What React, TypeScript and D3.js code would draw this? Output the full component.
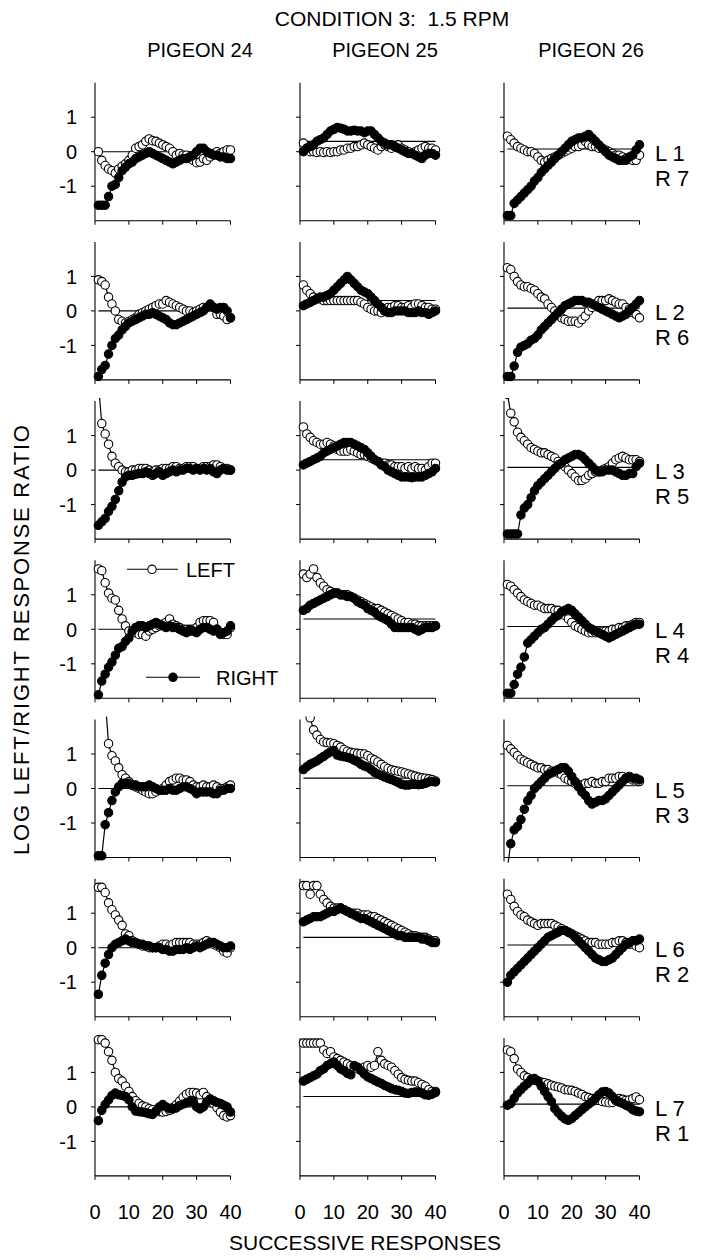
import React from 'react';
import * as d3 from 'd3';

// ---------- labels ----------
const pigeons = ['PIGEON 24', 'PIGEON 25', 'PIGEON 26'];
const leftLabels = ['L 1', 'L 2', 'L 3', 'L 4', 'L 5', 'L 6', 'L 7'];
const rightLabels = ['R 7', 'R 6', 'R 5', 'R 4', 'R 3', 'R 2', 'R 1'];
const xTickValues = [0, 10, 20, 30, 40];
const yTickValues = [1, 0, -1];
const referenceLevels = [0, 0.3, 0.08];
const titleText = 'CONDITION 3:  1.5 RPM';
const xTitle = 'SUCCESSIVE RESPONSES';
const yTitle = 'LOG LEFT/RIGHT RESPONSE RATIO';

// ---------- data (responses 1..40) ----------
// Row L1 R7
const p24_L1R7_left = [0.0,-0.25,-0.4,-0.5,-0.55,-0.62,-0.5,-0.42,-0.35,-0.25,-0.1,0.1,0.15,0.2,0.3,0.37,0.32,0.3,0.25,0.2,0.15,0.1,0.0,-0.1,-0.05,-0.1,-0.1,-0.15,-0.25,-0.32,-0.3,-0.2,-0.25,-0.15,-0.05,0.0,-0.05,0.0,0.05,0.05];
const p24_L1R7_right = [-1.55,-1.55,-1.55,-1.3,-1.0,-0.95,-0.75,-0.55,-0.45,-0.35,-0.3,-0.2,-0.15,-0.1,-0.05,0.0,-0.05,-0.1,-0.15,-0.2,-0.25,-0.3,-0.35,-0.3,-0.25,-0.2,-0.2,-0.15,-0.1,0.0,0.1,0.1,0.0,-0.05,-0.1,-0.1,-0.15,-0.15,-0.2,-0.2];
const p25_L1R7_left = [0.25,0.1,0.0,0.0,-0.02,0.0,-0.02,0.0,-0.02,0.0,0.0,0.05,0.05,0.1,0.1,0.15,0.15,0.2,0.25,0.2,0.15,0.1,0.05,0.15,0.2,0.15,0.1,0.15,0.2,0.1,0.05,0.0,-0.05,0.0,0.05,0.1,0.15,0.1,0.1,0.05];
const p25_L1R7_right = [0.0,0.1,0.15,0.2,0.3,0.35,0.4,0.5,0.6,0.65,0.7,0.68,0.65,0.6,0.6,0.62,0.6,0.6,0.55,0.6,0.6,0.5,0.4,0.3,0.25,0.2,0.2,0.15,0.1,0.05,0.0,-0.05,-0.05,-0.1,-0.15,-0.2,-0.1,-0.05,-0.05,-0.1];
const p26_L1R7_left = [0.45,0.35,0.25,0.15,0.1,0.05,0.0,0.0,-0.05,-0.15,-0.25,-0.3,-0.25,-0.2,-0.15,-0.1,-0.05,0.0,0.05,0.1,0.15,0.15,0.2,0.3,0.2,0.15,0.15,0.1,0.1,0.05,0.0,-0.05,-0.1,-0.1,-0.15,-0.2,-0.2,-0.25,-0.25,-0.1];
const p26_L1R7_right = [-1.85,-1.85,-1.5,-1.4,-1.3,-1.2,-1.1,-1.0,-0.85,-0.75,-0.6,-0.5,-0.4,-0.3,-0.2,-0.1,0.0,0.1,0.2,0.3,0.35,0.4,0.4,0.45,0.5,0.4,0.3,0.2,0.1,0.0,-0.1,-0.15,-0.2,-0.25,-0.25,-0.25,-0.15,-0.1,0.05,0.2];
// Row L2 R6
const p24_L2R6_left = [0.9,0.85,0.75,0.4,0.2,0.0,-0.25,-0.3,-0.35,-0.3,-0.25,-0.2,-0.1,-0.05,0.0,0.05,0.1,0.15,0.2,0.2,0.3,0.25,0.2,0.15,0.1,0.05,0.0,0.0,-0.05,0.0,0.05,0.1,0.1,0.15,0.1,-0.1,-0.1,-0.15,-0.25,-0.2];
const p24_L2R6_right = [-1.9,-1.7,-1.58,-1.25,-1.0,-0.8,-0.7,-0.55,-0.45,-0.35,-0.3,-0.25,-0.2,-0.15,-0.1,-0.1,-0.05,-0.1,-0.15,-0.2,-0.25,-0.35,-0.4,-0.4,-0.35,-0.3,-0.25,-0.2,-0.15,-0.1,-0.05,0.0,0.1,0.2,0.1,0.05,0.1,0.1,0.0,-0.2];
const p25_L2R6_left = [0.75,0.6,0.5,0.4,0.35,0.35,0.3,0.3,0.3,0.3,0.3,0.3,0.3,0.3,0.3,0.3,0.3,0.25,0.2,0.1,0.05,0.0,0.0,-0.05,0.0,0.1,0.1,0.15,0.15,0.1,0.1,0.15,0.1,0.2,0.2,0.15,0.1,0.1,0.05,0.05];
const p25_L2R6_right = [0.15,0.2,0.25,0.3,0.35,0.4,0.4,0.45,0.5,0.6,0.7,0.8,0.9,1.0,0.9,0.8,0.7,0.6,0.55,0.5,0.4,0.3,0.2,0.1,0.0,-0.05,-0.05,0.0,0.0,0.0,0.0,-0.05,-0.05,-0.05,0.0,-0.05,-0.05,-0.1,-0.05,0.0];
const p26_L2R6_left = [1.25,1.2,1.0,0.85,0.75,0.7,0.7,0.65,0.6,0.5,0.4,0.35,0.2,0.1,0.0,-0.1,-0.2,-0.25,-0.3,-0.3,-0.3,-0.35,-0.25,-0.15,0.0,0.1,0.2,0.3,0.3,0.3,0.35,0.3,0.25,0.2,0.2,0.1,0.05,-0.05,-0.1,-0.2];
const p26_L2R6_right = [-1.9,-1.9,-1.6,-1.2,-1.05,-1.0,-0.95,-0.85,-0.8,-0.7,-0.55,-0.45,-0.35,-0.25,-0.15,-0.05,0.05,0.15,0.2,0.25,0.3,0.3,0.3,0.25,0.25,0.2,0.15,0.1,0.05,0.0,-0.05,-0.1,-0.15,-0.2,-0.15,-0.1,0.0,0.1,0.2,0.3];
// Row L3 R5
const p24_L3R5_left = [2.5,1.35,1.05,0.75,0.4,0.2,0.1,0.0,-0.05,-0.05,0.0,0.0,0.05,0.05,0.05,0.0,-0.05,0.0,0.0,0.05,0.05,0.05,0.1,0.1,0.05,0.05,0.1,0.1,0.1,0.05,0.05,0.1,0.1,0.1,0.15,0.15,0.1,0.05,0.05,0.0];
const p24_L3R5_right = [-1.6,-1.5,-1.4,-1.2,-1.05,-0.85,-0.6,-0.35,-0.2,-0.15,-0.15,-0.12,-0.1,-0.1,-0.05,-0.1,-0.15,-0.1,-0.05,-0.15,-0.1,-0.05,0.0,-0.05,0.0,0.0,0.05,0.05,0.0,0.05,0.0,0.05,0.0,0.05,-0.05,-0.1,0.0,0.05,0.0,0.0];
const p25_L3R5_left = [1.25,1.05,0.95,0.85,0.8,0.75,0.75,0.8,0.75,0.7,0.6,0.55,0.55,0.55,0.6,0.55,0.5,0.45,0.45,0.4,0.35,0.3,0.25,0.2,0.2,0.15,0.15,0.1,0.1,0.1,0.05,0.1,0.05,0.1,0.05,0.05,0.0,0.1,0.2,0.2];
const p25_L3R5_right = [0.15,0.2,0.25,0.3,0.35,0.4,0.5,0.55,0.6,0.65,0.7,0.75,0.8,0.8,0.8,0.75,0.7,0.65,0.6,0.5,0.4,0.3,0.25,0.15,0.1,0.0,-0.05,-0.1,-0.15,-0.2,-0.2,-0.2,-0.22,-0.2,-0.2,-0.2,-0.15,-0.1,-0.05,0.05];
const p26_L3R5_left = [2.2,1.65,1.4,1.1,0.95,0.85,0.75,0.65,0.6,0.55,0.5,0.5,0.45,0.4,0.35,0.25,0.2,0.1,0.0,-0.1,-0.2,-0.3,-0.3,-0.25,-0.15,-0.1,-0.05,-0.05,0.0,0.05,0.1,0.2,0.3,0.35,0.4,0.35,0.3,0.3,0.3,0.25];
const p26_L3R5_right = [-1.85,-1.85,-1.85,-1.85,-1.3,-1.1,-1.0,-0.8,-0.6,-0.45,-0.35,-0.25,-0.15,-0.05,0.05,0.15,0.2,0.3,0.35,0.4,0.45,0.45,0.4,0.3,0.2,0.1,0.0,-0.05,-0.05,0.0,0.0,0.0,-0.05,-0.1,-0.15,-0.15,-0.1,-0.1,0.1,0.2];
// Row L4 R4
const p24_L4R4_left = [1.75,1.7,1.35,1.05,0.9,0.85,0.55,0.3,0.1,-0.05,-0.1,-0.1,-0.15,-0.15,-0.2,-0.05,0.0,0.05,0.1,0.15,0.2,0.3,0.15,0.1,0.05,0.0,0.0,-0.05,0.0,0.05,0.2,0.25,0.25,0.25,0.2,0.0,-0.1,-0.15,-0.15,0.05];
const p24_L4R4_right = [-1.9,-1.5,-1.3,-1.1,-0.95,-0.75,-0.55,-0.5,-0.35,-0.25,-0.05,0.05,0.1,0.1,0.05,0.1,0.15,0.2,0.15,0.1,0.05,0.1,0.05,0.05,0.0,-0.05,-0.1,0.0,-0.05,-0.1,0.0,0.05,0.05,0.0,-0.05,0.0,-0.15,-0.1,-0.05,0.1];
const p25_L4R4_left = [1.6,1.5,1.6,1.75,1.5,1.35,1.25,1.15,1.1,1.05,1.05,1.0,1.0,1.0,0.95,0.9,0.85,0.8,0.75,0.7,0.65,0.6,0.6,0.55,0.5,0.45,0.4,0.35,0.3,0.25,0.2,0.2,0.15,0.15,0.1,0.1,0.1,0.1,0.1,0.1];
const p25_L4R4_right = [0.55,0.6,0.7,0.75,0.8,0.85,0.9,0.95,1.0,1.05,1.05,1.0,1.0,0.95,0.95,0.9,0.8,0.75,0.7,0.6,0.55,0.5,0.4,0.35,0.3,0.25,0.15,0.05,0.05,0.05,0.05,0.05,0.05,0.0,-0.05,0.0,0.05,0.05,0.05,0.1];
const p26_L4R4_left = [1.3,1.25,1.15,1.05,0.95,0.85,0.8,0.75,0.7,0.7,0.65,0.6,0.6,0.6,0.55,0.55,0.5,0.4,0.3,0.2,0.1,0.05,0.0,-0.05,-0.1,-0.1,-0.1,-0.1,-0.05,-0.05,-0.05,0.0,0.0,0.05,0.05,0.1,0.1,0.15,0.2,0.2];
const p26_L4R4_right = [-1.85,-1.85,-1.6,-1.3,-1.1,-0.8,-0.4,-0.3,-0.2,-0.1,0.0,0.05,0.15,0.25,0.35,0.4,0.5,0.55,0.6,0.55,0.45,0.35,0.25,0.15,0.05,0.0,-0.05,-0.1,-0.15,-0.2,-0.25,-0.2,-0.15,-0.1,-0.05,0.0,0.05,0.1,0.15,0.15];
// Row L5 R3
const p24_L5R3_left = [3.5,3.2,2.6,1.3,0.95,0.8,0.6,0.4,0.3,0.2,0.1,0.05,0.0,-0.05,-0.1,-0.15,-0.15,-0.1,-0.05,0.0,0.1,0.2,0.25,0.3,0.3,0.25,0.25,0.2,0.1,0.05,0.05,0.1,0.05,0.05,0.1,0.05,0.0,0.0,0.05,0.1];
const p24_L5R3_right = [-1.95,-1.95,-1.05,-0.7,-0.35,-0.1,0.05,0.15,0.15,0.15,0.1,0.1,0.05,0.05,0.05,0.1,0.05,0.0,-0.05,-0.05,-0.05,0.0,-0.05,-0.05,0.0,0.05,0.05,0.0,-0.05,-0.15,-0.1,-0.1,-0.1,-0.1,-0.15,-0.15,-0.05,-0.05,0.0,0.0];
const p25_L5R3_left = [2.5,2.3,2.05,1.7,1.55,1.42,1.35,1.33,1.32,1.3,1.25,1.2,1.13,1.08,1.05,1.03,1.02,1.01,1.0,0.95,0.88,0.83,0.77,0.7,0.63,0.58,0.54,0.52,0.5,0.48,0.45,0.42,0.39,0.36,0.33,0.31,0.3,0.28,0.26,0.22];
const p25_L5R3_right = [0.55,0.63,0.7,0.75,0.8,0.87,0.93,1.0,1.06,1.1,0.97,0.94,0.92,0.9,0.87,0.82,0.77,0.7,0.65,0.62,0.55,0.47,0.42,0.38,0.33,0.29,0.26,0.22,0.17,0.12,0.1,0.1,0.12,0.12,0.11,0.12,0.15,0.19,0.2,0.19];
const p26_L5R3_left = [1.25,1.15,1.05,0.95,0.85,0.8,0.75,0.7,0.65,0.6,0.6,0.55,0.55,0.5,0.5,0.45,0.4,0.3,0.25,0.2,0.15,0.1,0.1,0.15,0.15,0.2,0.15,0.15,0.2,0.2,0.3,0.3,0.3,0.35,0.35,0.3,0.3,0.25,0.25,0.2];
const p26_L5R3_right = [-2.3,-1.6,-1.2,-1.1,-0.9,-0.6,-0.35,-0.2,0.0,0.1,0.2,0.3,0.4,0.45,0.5,0.55,0.6,0.6,0.5,0.35,0.2,0.05,-0.1,-0.2,-0.35,-0.45,-0.4,-0.35,-0.35,-0.3,-0.2,-0.1,0.0,0.1,0.2,0.3,0.35,0.3,0.3,0.25];
// Row L6 R2
const p24_L6R2_left = [1.75,1.75,1.6,1.3,1.1,0.95,0.8,0.65,0.4,0.35,0.2,0.15,0.1,0.05,0.05,0.0,0.0,0.0,0.05,0.1,0.1,0.05,0.1,0.15,0.15,0.15,0.15,0.15,0.1,0.1,0.1,0.15,0.2,0.15,0.1,0.05,0.0,-0.1,-0.15,0.0];
const p24_L6R2_right = [-1.35,-0.8,-0.45,-0.2,0.0,0.1,0.15,0.2,0.25,0.2,0.15,0.15,0.1,0.1,0.05,0.05,0.0,0.0,0.0,-0.05,-0.05,-0.1,-0.1,-0.05,-0.05,-0.05,0.0,-0.05,0.0,0.05,0.0,0.05,0.1,0.15,0.15,0.1,0.05,0.0,0.0,0.05];
const p25_L6R2_left = [1.8,1.8,1.55,1.8,1.8,1.55,1.4,1.3,1.2,1.15,1.15,1.15,1.1,1.05,1.0,1.0,1.0,0.95,0.95,0.95,0.9,0.9,0.85,0.8,0.75,0.7,0.65,0.6,0.55,0.5,0.45,0.4,0.35,0.35,0.3,0.3,0.3,0.25,0.2,0.2];
const p25_L6R2_right = [0.75,0.8,0.85,0.9,0.9,0.9,0.95,1.0,1.05,1.05,1.1,1.15,1.1,1.05,1.0,0.95,0.9,0.85,0.85,0.8,0.75,0.7,0.65,0.6,0.55,0.5,0.45,0.4,0.35,0.35,0.3,0.3,0.3,0.3,0.3,0.25,0.25,0.2,0.15,0.15];
const p26_L6R2_left = [1.55,1.4,1.2,1.05,0.95,0.9,0.8,0.75,0.7,0.65,0.7,0.7,0.7,0.7,0.65,0.6,0.55,0.5,0.45,0.4,0.35,0.3,0.25,0.2,0.15,0.15,0.15,0.1,0.1,0.1,0.1,0.15,0.15,0.2,0.2,0.15,0.1,0.1,0.05,0.0];
const p26_L6R2_right = [-1.0,-0.8,-0.7,-0.6,-0.5,-0.4,-0.3,-0.2,-0.1,0.0,0.1,0.2,0.3,0.35,0.4,0.45,0.5,0.5,0.45,0.4,0.3,0.2,0.1,0.0,-0.1,-0.2,-0.3,-0.35,-0.4,-0.4,-0.35,-0.3,-0.2,-0.1,0.0,0.1,0.15,0.2,0.2,0.25];
// Row L7 R1
const p24_L7R1_left = [1.95,1.95,1.85,1.6,1.35,1.0,0.82,0.75,0.6,0.45,0.3,0.18,0.1,0.03,0.0,-0.05,-0.08,-0.12,-0.14,-0.15,-0.13,-0.1,-0.02,0.06,0.17,0.28,0.37,0.42,0.42,0.4,0.35,0.42,0.3,0.18,0.1,-0.02,-0.15,-0.25,-0.29,-0.25];
const p24_L7R1_right = [-0.4,-0.1,0.07,0.2,0.33,0.4,0.35,0.33,0.3,0.2,0.0,-0.12,-0.14,-0.15,-0.17,-0.2,-0.22,-0.12,0.0,0.07,0.0,-0.05,-0.06,-0.03,0.04,0.08,0.12,0.15,0.16,0.0,-0.06,0.0,0.15,0.23,0.18,0.13,0.1,0.05,0.0,-0.15];
const p25_L7R1_left = [1.85,1.85,1.85,1.85,1.85,1.85,1.65,1.55,1.6,1.45,1.4,1.35,1.3,1.25,1.2,1.15,1.1,1.1,1.15,1.2,1.15,1.2,1.6,1.35,1.25,1.2,1.15,1.05,0.95,0.85,0.8,0.77,0.75,0.75,0.7,0.65,0.6,0.5,0.45,0.45];
const p25_L7R1_right = [0.75,0.8,0.85,0.9,0.95,1.05,1.1,1.2,1.25,1.3,1.2,1.1,1.05,0.97,0.93,1.2,1.15,1.05,0.95,0.87,0.82,0.77,0.72,0.68,0.62,0.58,0.53,0.5,0.48,0.45,0.4,0.39,0.42,0.43,0.43,0.4,0.35,0.34,0.37,0.42];
const p26_L7R1_left = [1.65,1.6,1.4,1.1,1.0,0.9,0.85,0.8,0.77,0.75,0.72,0.7,0.67,0.63,0.6,0.58,0.55,0.5,0.49,0.48,0.45,0.4,0.36,0.3,0.27,0.24,0.21,0.19,0.16,0.14,0.12,0.13,0.18,0.24,0.22,0.19,0.2,0.24,0.29,0.21];
const p26_L7R1_right = [0.05,0.1,0.25,0.4,0.5,0.6,0.68,0.78,0.82,0.75,0.6,0.45,0.3,0.15,-0.05,-0.17,-0.27,-0.35,-0.39,-0.34,-0.25,-0.17,-0.08,0.0,0.08,0.15,0.25,0.35,0.43,0.45,0.4,0.3,0.2,0.14,0.1,0.05,0.0,-0.08,-0.12,-0.14];

const grid = [
  [[p24_L1R7_left, p24_L1R7_right], [p25_L1R7_left, p25_L1R7_right], [p26_L1R7_left, p26_L1R7_right]],
  [[p24_L2R6_left, p24_L2R6_right], [p25_L2R6_left, p25_L2R6_right], [p26_L2R6_left, p26_L2R6_right]],
  [[p24_L3R5_left, p24_L3R5_right], [p25_L3R5_left, p25_L3R5_right], [p26_L3R5_left, p26_L3R5_right]],
  [[p24_L4R4_left, p24_L4R4_right], [p25_L4R4_left, p25_L4R4_right], [p26_L4R4_left, p26_L4R4_right]],
  [[p24_L5R3_left, p24_L5R3_right], [p25_L5R3_left, p25_L5R3_right], [p26_L5R3_left, p26_L5R3_right]],
  [[p24_L6R2_left, p24_L6R2_right], [p25_L6R2_left, p25_L6R2_right], [p26_L6R2_left, p26_L6R2_right]],
  [[p24_L7R1_left, p24_L7R1_right], [p25_L7R1_left, p25_L7R1_right], [p26_L7R1_left, p26_L7R1_right]],
];

// ---------- layout ----------
const W = 707;
const H = 1260;
const colX = [95, 300, 504];
const plotW = 135.5;
const firstZero = 151.7;
const rowStep = 159.2;
const halfH = 69;
const headerX = [200, 385, 591];
const FONT = "'Liberation Sans', Arial, Helvetica, sans-serif";
const R = 4.2;

function Panel({ r, c }: { r: number; c: number }) {
  const [leftVals, rightVals] = grid[r][c];
  const zero = firstZero + rowStep * r;
  const x = d3.scaleLinear().domain([0, 40]).range([colX[c], colX[c] + plotW]);
  const y = d3.scaleLinear().domain([-2, 2]).range([zero + halfH, zero - halfH]);
  const line = d3
    .line<number>()
    .x((_, i) => x(i + 1))
    .y((v) => y(v));
  const clipId = `clip-${r}-${c}`;
  const y0 = y(-2);
  const y2 = y(2);
  return (
    <g>
      <defs>
        <clipPath id={clipId}>
          <rect x={x(0) - 6} y={y2 - 3} width={plotW + 14} height={y0 - y2 + 8} />
        </clipPath>
      </defs>
      {/* axes */}
      <line x1={x(0)} x2={x(0)} y1={y2} y2={y0} stroke="#000" strokeWidth={1.1} />
      <line x1={x(0)} x2={x(40)} y1={y0} y2={y0} stroke="#000" strokeWidth={1.1} />
      {yTickValues.map((t) => (
        <line key={`yt${t}`} x1={x(0) - 4} x2={x(0)} y1={y(t)} y2={y(t)} stroke="#000" strokeWidth={1} />
      ))}
      {xTickValues.map((t) => (
        <line key={`xt${t}`} x1={x(t)} x2={x(t)} y1={y0} y2={y0 + 4} stroke="#000" strokeWidth={1} />
      ))}
      {/* reference level */}
      <line
        x1={x(1)}
        x2={x(40)}
        y1={y(referenceLevels[c])}
        y2={y(referenceLevels[c])}
        stroke="#000"
        strokeWidth={1.1}
      />
      <g clipPath={`url(#${clipId})`}>
        <path d={line(leftVals) || ''} fill="none" stroke="#000" strokeWidth={1.2} />
        <path d={line(rightVals) || ''} fill="none" stroke="#000" strokeWidth={1.2} />
        {leftVals.map((v, i) => (
          <circle key={`l${i}`} cx={x(i + 1)} cy={y(v)} r={R} fill="#fff" stroke="#000" strokeWidth={1.1} />
        ))}
        {rightVals.map((v, i) => (
          <circle key={`r${i}`} cx={x(i + 1)} cy={y(v)} r={R} fill="#000" stroke="#000" strokeWidth={1.1} />
        ))}
      </g>
      {c === 0 &&
        yTickValues.map((t) => (
          <text key={`yl${t}`} x={77} y={y(t)} dy="0.36em" textAnchor="end" fontSize={20} fontFamily={FONT}>
            {t < 0 ? `-${Math.abs(t)}` : `${t}`}
          </text>
        ))}
      {r === 6 &&
        xTickValues.map((t) => (
          <text key={`xl${t}`} x={x(t)} y={1219} textAnchor="middle" fontSize={20} fontFamily={FONT}>
            {t}
          </text>
        ))}
      {c === 2 && (
        <g fontSize={22} fontFamily={FONT}>
          <text x={655} y={zero + 9}>{leftLabels[r]}</text>
          <text x={655} y={zero + 34}>{rightLabels[r]}</text>
        </g>
      )}
    </g>
  );
}

export default function App() {
  const rows = d3.range(7);
  const cols = d3.range(3);
  const legendZero = firstZero + rowStep * 3;
  return (
    <svg
      width={W}
      height={H}
      viewBox={`0 0 ${W} ${H}`}
      style={{ position: 'absolute', left: 0, top: 0, background: '#fff' }}
    >
      <rect x={0} y={0} width={W} height={H} fill="#fff" />
      <text x={392} y={26} textAnchor="middle" fontSize={21} fontFamily={FONT} style={{ whiteSpace: 'pre' }}>
        {titleText}
      </text>
      {pigeons.map((p, i) => (
        <text key={p} x={headerX[i]} y={57} textAnchor="middle" fontSize={20} fontFamily={FONT}>
          {p}
        </text>
      ))}
      {rows.map((r) => cols.map((c) => <Panel key={`${r}-${c}`} r={r} c={c} />))}
      {/* legend */}
      <g>
        <line x1={127} x2={178} y1={legendZero - 60} y2={legendZero - 60} stroke="#000" strokeWidth={1.1} />
        <circle cx={152} cy={legendZero - 60} r={R} fill="#fff" stroke="#000" strokeWidth={1.1} />
        <text x={186} y={legendZero - 60} dy="0.36em" fontSize={20} fontFamily={FONT}>
          LEFT
        </text>
        <line x1={146} x2={200} y1={legendZero + 48} y2={legendZero + 48} stroke="#000" strokeWidth={1.1} />
        <circle cx={173} cy={legendZero + 48} r={R} fill="#000" stroke="#000" strokeWidth={1.1} />
        <text x={216} y={legendZero + 48} dy="0.36em" fontSize={20} fontFamily={FONT}>
          RIGHT
        </text>
      </g>
      <text x={365} y={1250} textAnchor="middle" fontSize={21} fontFamily={FONT}>
        {xTitle}
      </text>
      <text
        transform={`translate(29, 640) rotate(-90)`}
        textAnchor="middle"
        fontSize={22}
        fontFamily={FONT}
        textLength={430}
        lengthAdjust="spacing"
      >
        {yTitle}
      </text>
    </svg>
  );
}
